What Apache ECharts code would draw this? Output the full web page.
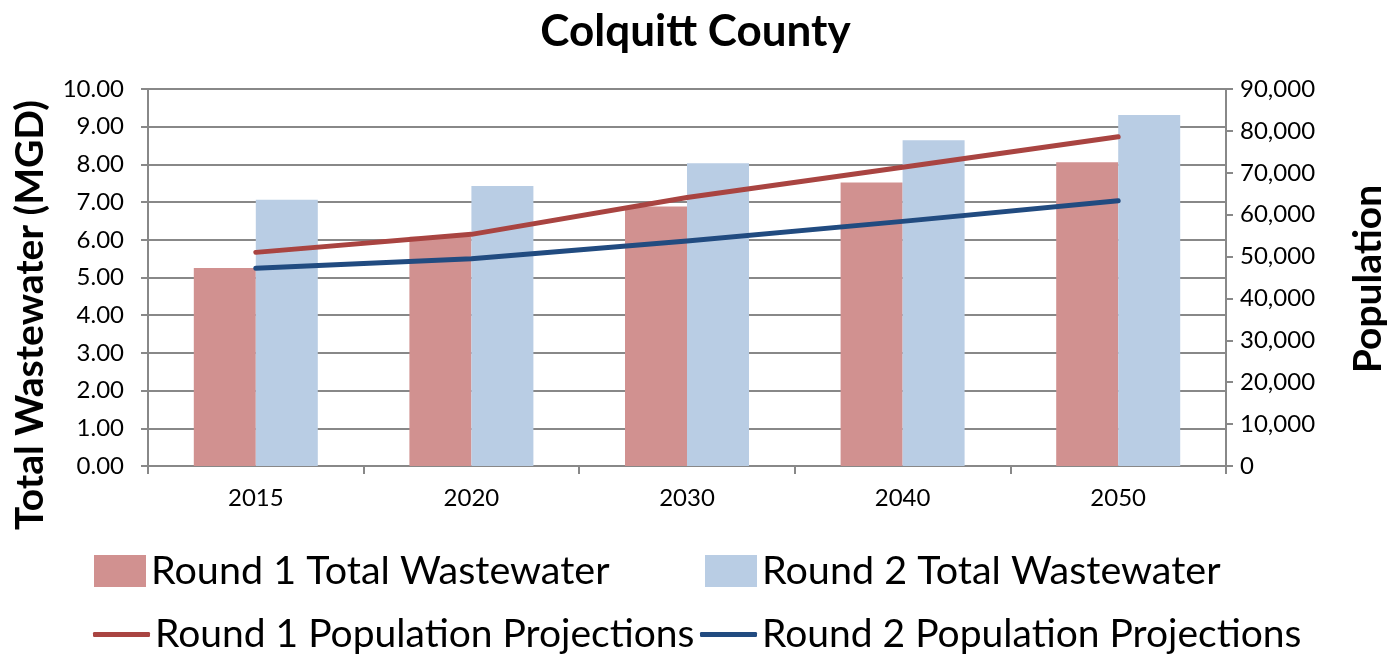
<!DOCTYPE html>
<html>
<head>
<meta charset="utf-8">
<script src="https://cdn.jsdelivr.net/npm/echarts@6/dist/echarts.min.js"></script>
<style>
  html, body { margin: 0; padding: 0; background: #fff; }
  #chart { width: 1391px; height: 656px; }
</style>
</head>
<body>
<div id="chart"></div>
<script>
// 年份
const years = ['2015', '2020', '2030', '2040', '2050']
// 污水总量 (MGD)
const round1Wastewater = [5.25, 6.08, 6.88, 7.52, 8.06]
const round2Wastewater = [7.06, 7.43, 8.03, 8.64, 9.31]
// 人口预测
const round1Population = [51000, 55300, 64100, 71300, 78600]
const round2Population = [47200, 49500, 53700, 58400, 63300]

const FONT = 'Lato'
const gridColor = '#888888'

const legendText = { color: '#000', fontFamily: FONT, fontSize: 39.5 }
const legendTextLine = { color: '#000', fontFamily: FONT, fontSize: 39 }

const myChart = echarts.init(document.getElementById('chart'))

const options = {
  backgroundColor: '#fff',
  animation: false,
  title: {
    text: 'Colquitt County',
    left: 'center',
    top: 5,
    textStyle: { fontFamily: FONT, fontSize: 44, fontWeight: 'bold', color: '#000' }
  },
  graphic: [
    {
      type: 'text', x: 30, y: 315, rotation: Math.PI / 2,
      style: {
        text: 'Total Wastewater (MGD)', align: 'center', verticalAlign: 'middle',
        font: 'bold 39px Lato', fill: '#000'
      }
    },
    {
      type: 'text', x: 1368, y: 279, rotation: Math.PI / 2,
      style: {
        text: 'Population', align: 'center', verticalAlign: 'middle',
        font: 'bold 39px Lato', fill: '#000'
      }
    }
  ],
  legend: [
    { left: 94, top: 551, padding: 0, itemWidth: 52, itemHeight: 32, itemGap: 0, icon: 'rect',
      textStyle: legendText, data: ['Round 1 Total Wastewater'] },
    { left: 705, top: 551, padding: 0, itemWidth: 52, itemHeight: 32, itemGap: 0, icon: 'rect',
      textStyle: legendText, data: ['Round 2 Total Wastewater'] },
    { left: 93, top: 615, padding: 0, itemWidth: 57, itemHeight: 5, itemGap: 0, icon: 'roundRect',
      textStyle: legendTextLine, data: ['Round 1 Population Projections'] },
    { left: 700, top: 615, padding: 0, itemWidth: 57, itemHeight: 5, itemGap: 0, icon: 'roundRect',
      textStyle: legendTextLine, data: ['Round 2 Population Projections'] }
  ],
  grid: { left: 148, right: 165, top: 89, bottom: 190 },
  xAxis: {
    type: 'category',
    data: years,
    boundaryGap: true,
    axisLine: { lineStyle: { color: gridColor, width: 2 } },
    axisTick: { show: true, length: 8, lineStyle: { color: gridColor, width: 2 } },
    axisLabel: { color: '#000', fontFamily: FONT, fontSize: 24, margin: 20 }
  },
  yAxis: [
    {
      type: 'value', min: 0, max: 10, interval: 1,
      axisLine: { show: true, lineStyle: { color: gridColor, width: 2 } },
      axisTick: { show: true, length: 7, lineStyle: { color: gridColor, width: 2 } },
      axisLabel: {
        color: '#000', fontFamily: FONT, fontSize: 24, margin: 24,
        formatter: v => v.toFixed(2)
      },
      splitLine: { show: true, lineStyle: { color: gridColor, width: 2 } }
    },
    {
      type: 'value', min: 0, max: 90000, interval: 10000, position: 'right',
      axisLine: { show: true, lineStyle: { color: gridColor, width: 2 } },
      axisTick: { show: true, length: 7, lineStyle: { color: gridColor, width: 2 } },
      axisLabel: {
        color: '#000', fontFamily: FONT, fontSize: 24, margin: 14,
        formatter: v => v.toLocaleString('en-US')
      },
      splitLine: { show: false }
    }
  ],
  series: [
    {
      name: 'Round 1 Total Wastewater', type: 'bar', yAxisIndex: 0,
      barWidth: 62, barGap: '0%',
      itemStyle: { color: '#D19190' },
      data: round1Wastewater
    },
    {
      name: 'Round 2 Total Wastewater', type: 'bar', yAxisIndex: 0,
      barWidth: 62, barGap: '0%',
      itemStyle: { color: '#B9CDE4' },
      data: round2Wastewater
    },
    {
      name: 'Round 1 Population Projections', type: 'line', yAxisIndex: 1,
      showSymbol: false, symbol: 'none',
      itemStyle: { color: '#A94441' },
      lineStyle: { color: '#A94441', width: 5, cap: 'round', join: 'round' },
      data: round1Population
    },
    {
      name: 'Round 2 Population Projections', type: 'line', yAxisIndex: 1,
      showSymbol: false, symbol: 'none',
      itemStyle: { color: '#214B80' },
      lineStyle: { color: '#214B80', width: 5, cap: 'round', join: 'round' },
      data: round2Population
    }
  ]
}

myChart.setOption(options)
</script>
</body>
</html>
